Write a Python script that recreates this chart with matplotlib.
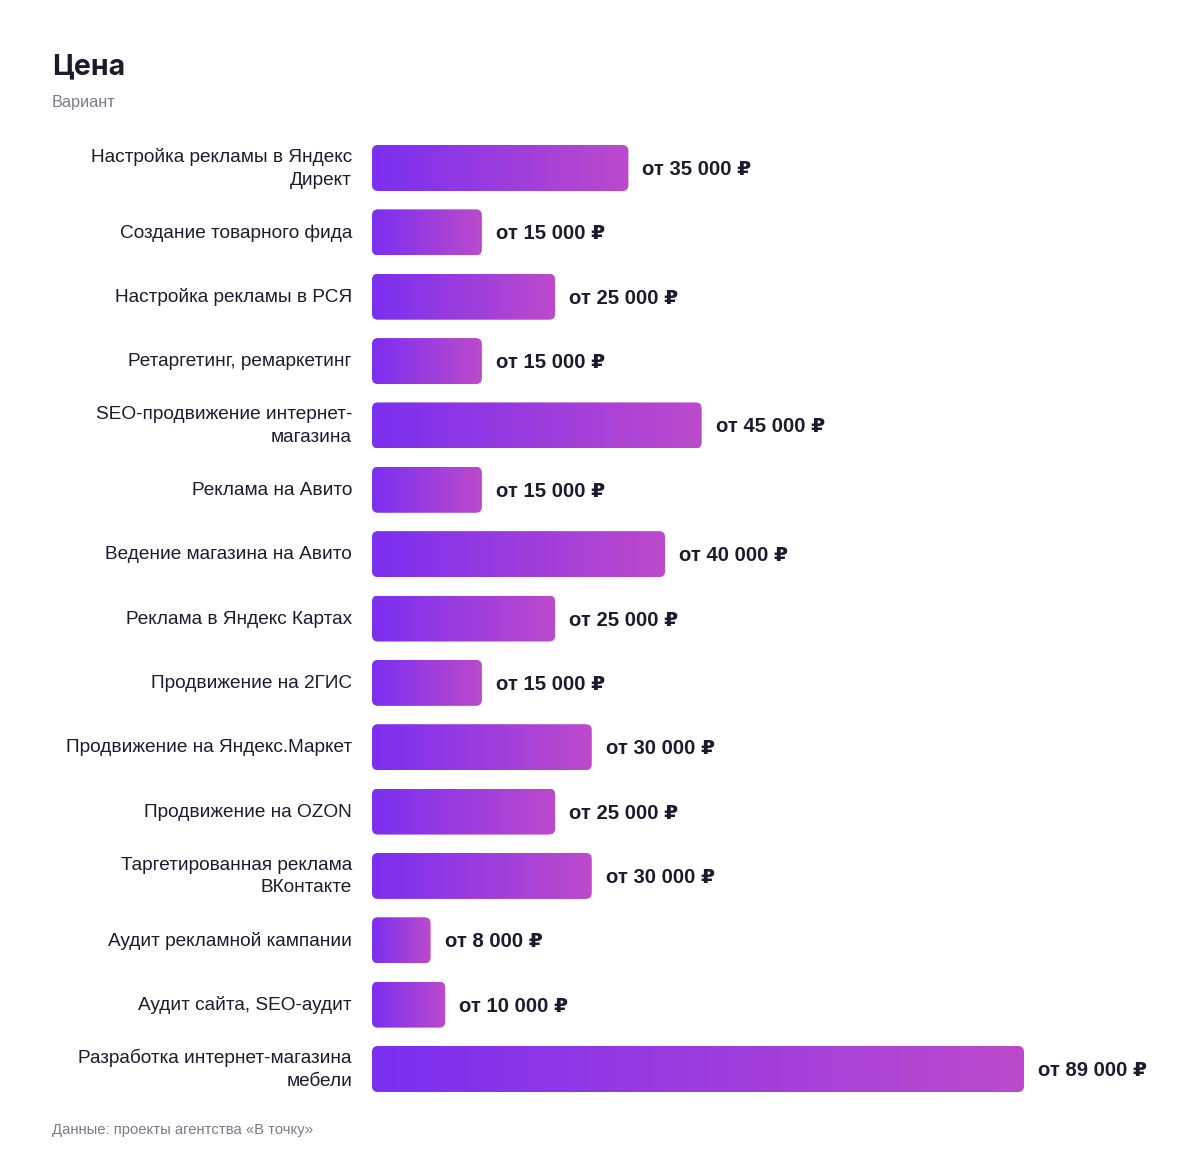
import numpy as np
import matplotlib
matplotlib.use('Agg')
import matplotlib.pyplot as plt
from matplotlib.patches import FancyBboxPatch

# Data
categories = [
    'Настройка рекламы в Яндекс\nДирект',
    'Создание товарного фида',
    'Настройка рекламы в РСЯ',
    'Ретаргетинг, ремаркетинг',
    'SEO-продвижение интернет-\nмагазина',
    'Реклама на Авито',
    'Ведение магазина на Авито',
    'Реклама в Яндекс Картах',
    'Продвижение на 2ГИС',
    'Продвижение на Яндекс.Маркет',
    'Продвижение на OZON',
    'Таргетированная реклама\nВКонтакте',
    'Аудит рекламной кампании',
    'Аудит сайта, SEO-аудит',
    'Разработка интернет-магазина\nмебели',
]
prices = [35000, 15000, 25000, 15000, 45000, 15000, 40000, 25000,
          15000, 30000, 25000, 30000, 8000, 10000, 89000]

title = 'Цена'
subtitle = 'Вариант'
source = 'Данные: проекты агентства «В точку»'

plt.rcParams['font.family'] = ['Liberation Sans', 'DejaVu Sans']

W, H = 1200, 1160
fig = plt.figure(figsize=(W / 100, H / 100), dpi=100)

# axes placement in pixels
x0_px = 372
px_per_unit = 652 / 89000
xmax = 100000
ax_w_px = xmax * px_per_unit
row_px = (1069 - 168) / 14
n = len(categories)
ax_top_px = 168 - row_px / 2
ax_h_px = n * row_px
ax = fig.add_axes([x0_px / W, 1 - (ax_top_px + ax_h_px) / H, ax_w_px / W, ax_h_px / H])
ax.set_xlim(0, xmax)
ax.set_ylim(n - 0.5, -0.5)
ax.axis('off')

bar_h = 46 / row_px
radius_px = 6
x_per_px = 1 / px_per_unit
y_per_px = 1 / row_px
aspect = y_per_px / x_per_px

c_left = np.array([123, 47, 240]) / 255
c_right = np.array([188, 74, 204]) / 255
grad = np.linspace(0, 1, 256)[None, :, None]
grad_img = c_left + (c_right - c_left) * grad

for i, (cat, val) in enumerate(zip(categories, prices)):
    y0 = i - bar_h / 2
    patch = FancyBboxPatch((0, y0), val, bar_h,
                           boxstyle=f'round,pad=0,rounding_size={radius_px * x_per_px}',
                           mutation_aspect=aspect, linewidth=0, facecolor='none')
    ax.add_patch(patch)
    im = ax.imshow(grad_img, extent=(0, val, y0 + bar_h, y0), aspect='auto',
                   interpolation='bilinear', zorder=2)
    im.set_clip_path(patch)
    ax.text(val + 14 * x_per_px, i + 1.5 * y_per_px, f'от {val:,} ₽'.replace(',', ' '),
            va='center', ha='left', fontsize=14.6, fontweight='bold',
            color='#1c1b2e')
    ax.text(-20 * x_per_px, i + 0.5 * y_per_px, cat, va='center', ha='right', fontsize=13.7,
            color='#1c1b2e', linespacing=1.45)

ax.set_aspect('auto')
ax.set_xlim(0, xmax)
ax.set_ylim(n - 0.5, -0.5)

fig.text(52 / W, 1 - 67 / H, title, fontsize=20.5, fontweight='bold',
         color='#1c1b2e', va='center', ha='left', family=['Inter', 'DejaVu Sans'])
fig.text(52 / W, 1 - 103 / H, subtitle, fontsize=11.7, color='#7a7a8c',
         va='center', ha='left')
fig.text(52 / W, 1 - 1130 / H, source, fontsize=10.7, color='#7a7a8c',
         va='center', ha='left')

fig.savefig('out.png', dpi=100, facecolor='white')
